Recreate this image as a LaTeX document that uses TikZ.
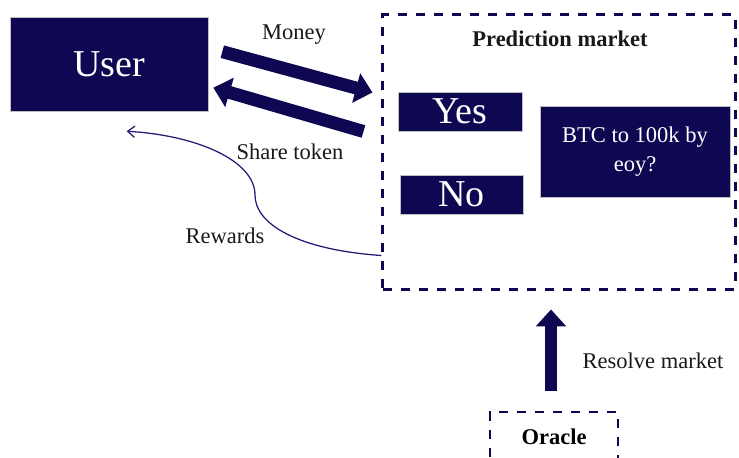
\documentclass[tikz,border=0pt]{standalone}
\usepackage{fontspec}
\setmainfont{Liberation Serif}
\usepackage{xcolor}
\usepackage{tikz}
\usetikzlibrary{arrows.meta,positioning,calc}
\definecolor{navy}{RGB}{14,8,82}
\definecolor{curveblue}{RGB}{36,28,118}
\newcommand{\bigtxt}{\fontsize{27}{30}\selectfont}
\newcommand{\midtxt}{\fontsize{16}{21}\selectfont}

\begin{document}
\begin{tikzpicture}[
  x=0.025cm, y=-0.025cm,
  darkbox/.style={fill=navy, draw=black!25, line width=0.4pt, text=white, align=center, inner sep=0pt},
  dashbox/.style={draw=navy, line width=2.1pt, dash pattern=on 6.4pt off 6.4pt, inner sep=0pt},
  lbl/.style={font=\midtxt, text=black!90, inner sep=1pt},
  fatarr/.style={draw=navy, line width=9.2pt, -{Triangle[length=12pt, width=21pt]}},
  thinarr/.style={draw=curveblue, line width=0.9pt, -{Straight Barb[length=5pt, width=8pt]}},
]

  \clip (0,0) rectangle (739,458);

  \node[darkbox, minimum width=4.95cm, minimum height=2.35cm, font=\bigtxt] (user) at (109,64) {User};

  \node[dashbox, minimum width=8.8cm, minimum height=6.85cm] (market) at (559,152) {};
  \node[lbl, font=\midtxt\bfseries] (title) at (560,39) {Prediction market};
  \node[darkbox, minimum width=3.1cm, minimum height=0.975cm, font=\bigtxt] (yes) at (460,111.5) {Yes};
  \node[darkbox, minimum width=3.075cm, minimum height=0.975cm, font=\bigtxt] (no) at (461.5,194.5) {No};
  \node[darkbox, minimum width=4.75cm, minimum height=2.275cm, font=\midtxt] (btc) at (635,151.5) {BTC to 100k by\\eoy?};

  \node[dashbox, minimum width=3.2cm, minimum height=1.25cm, font=\midtxt\bfseries] (oracle) at (554,437) {Oracle};

  \draw[fatarr] ($(user.north east)+(14,35)$) -- ($(market.north west)+(-9,79)$);
  \draw[fatarr] ($(market.north west)+(-18,118)$) -- ($(user.north east)+(5,71)$);
  \node[lbl] (money) at (294,35) {Money};
  \node[lbl] (share) at (290,152) {Share token};

  \draw[thinarr] ($(market.south west)+(0,-35)$) .. controls (300,250) and (255,225) .. (255,195)
    .. controls (255,160) and (195,135) .. ($(user.south west)+(117,20)$);
  \node[lbl] (rewards) at (225,236) {Rewards};

  \draw[fatarr] ($(oracle.north)+(-3,-20)$) -- ($(market.south)+(-8,19)$);
  \node[lbl] (resolve) at (653,361) {Resolve market};
\end{tikzpicture}
\end{document}
